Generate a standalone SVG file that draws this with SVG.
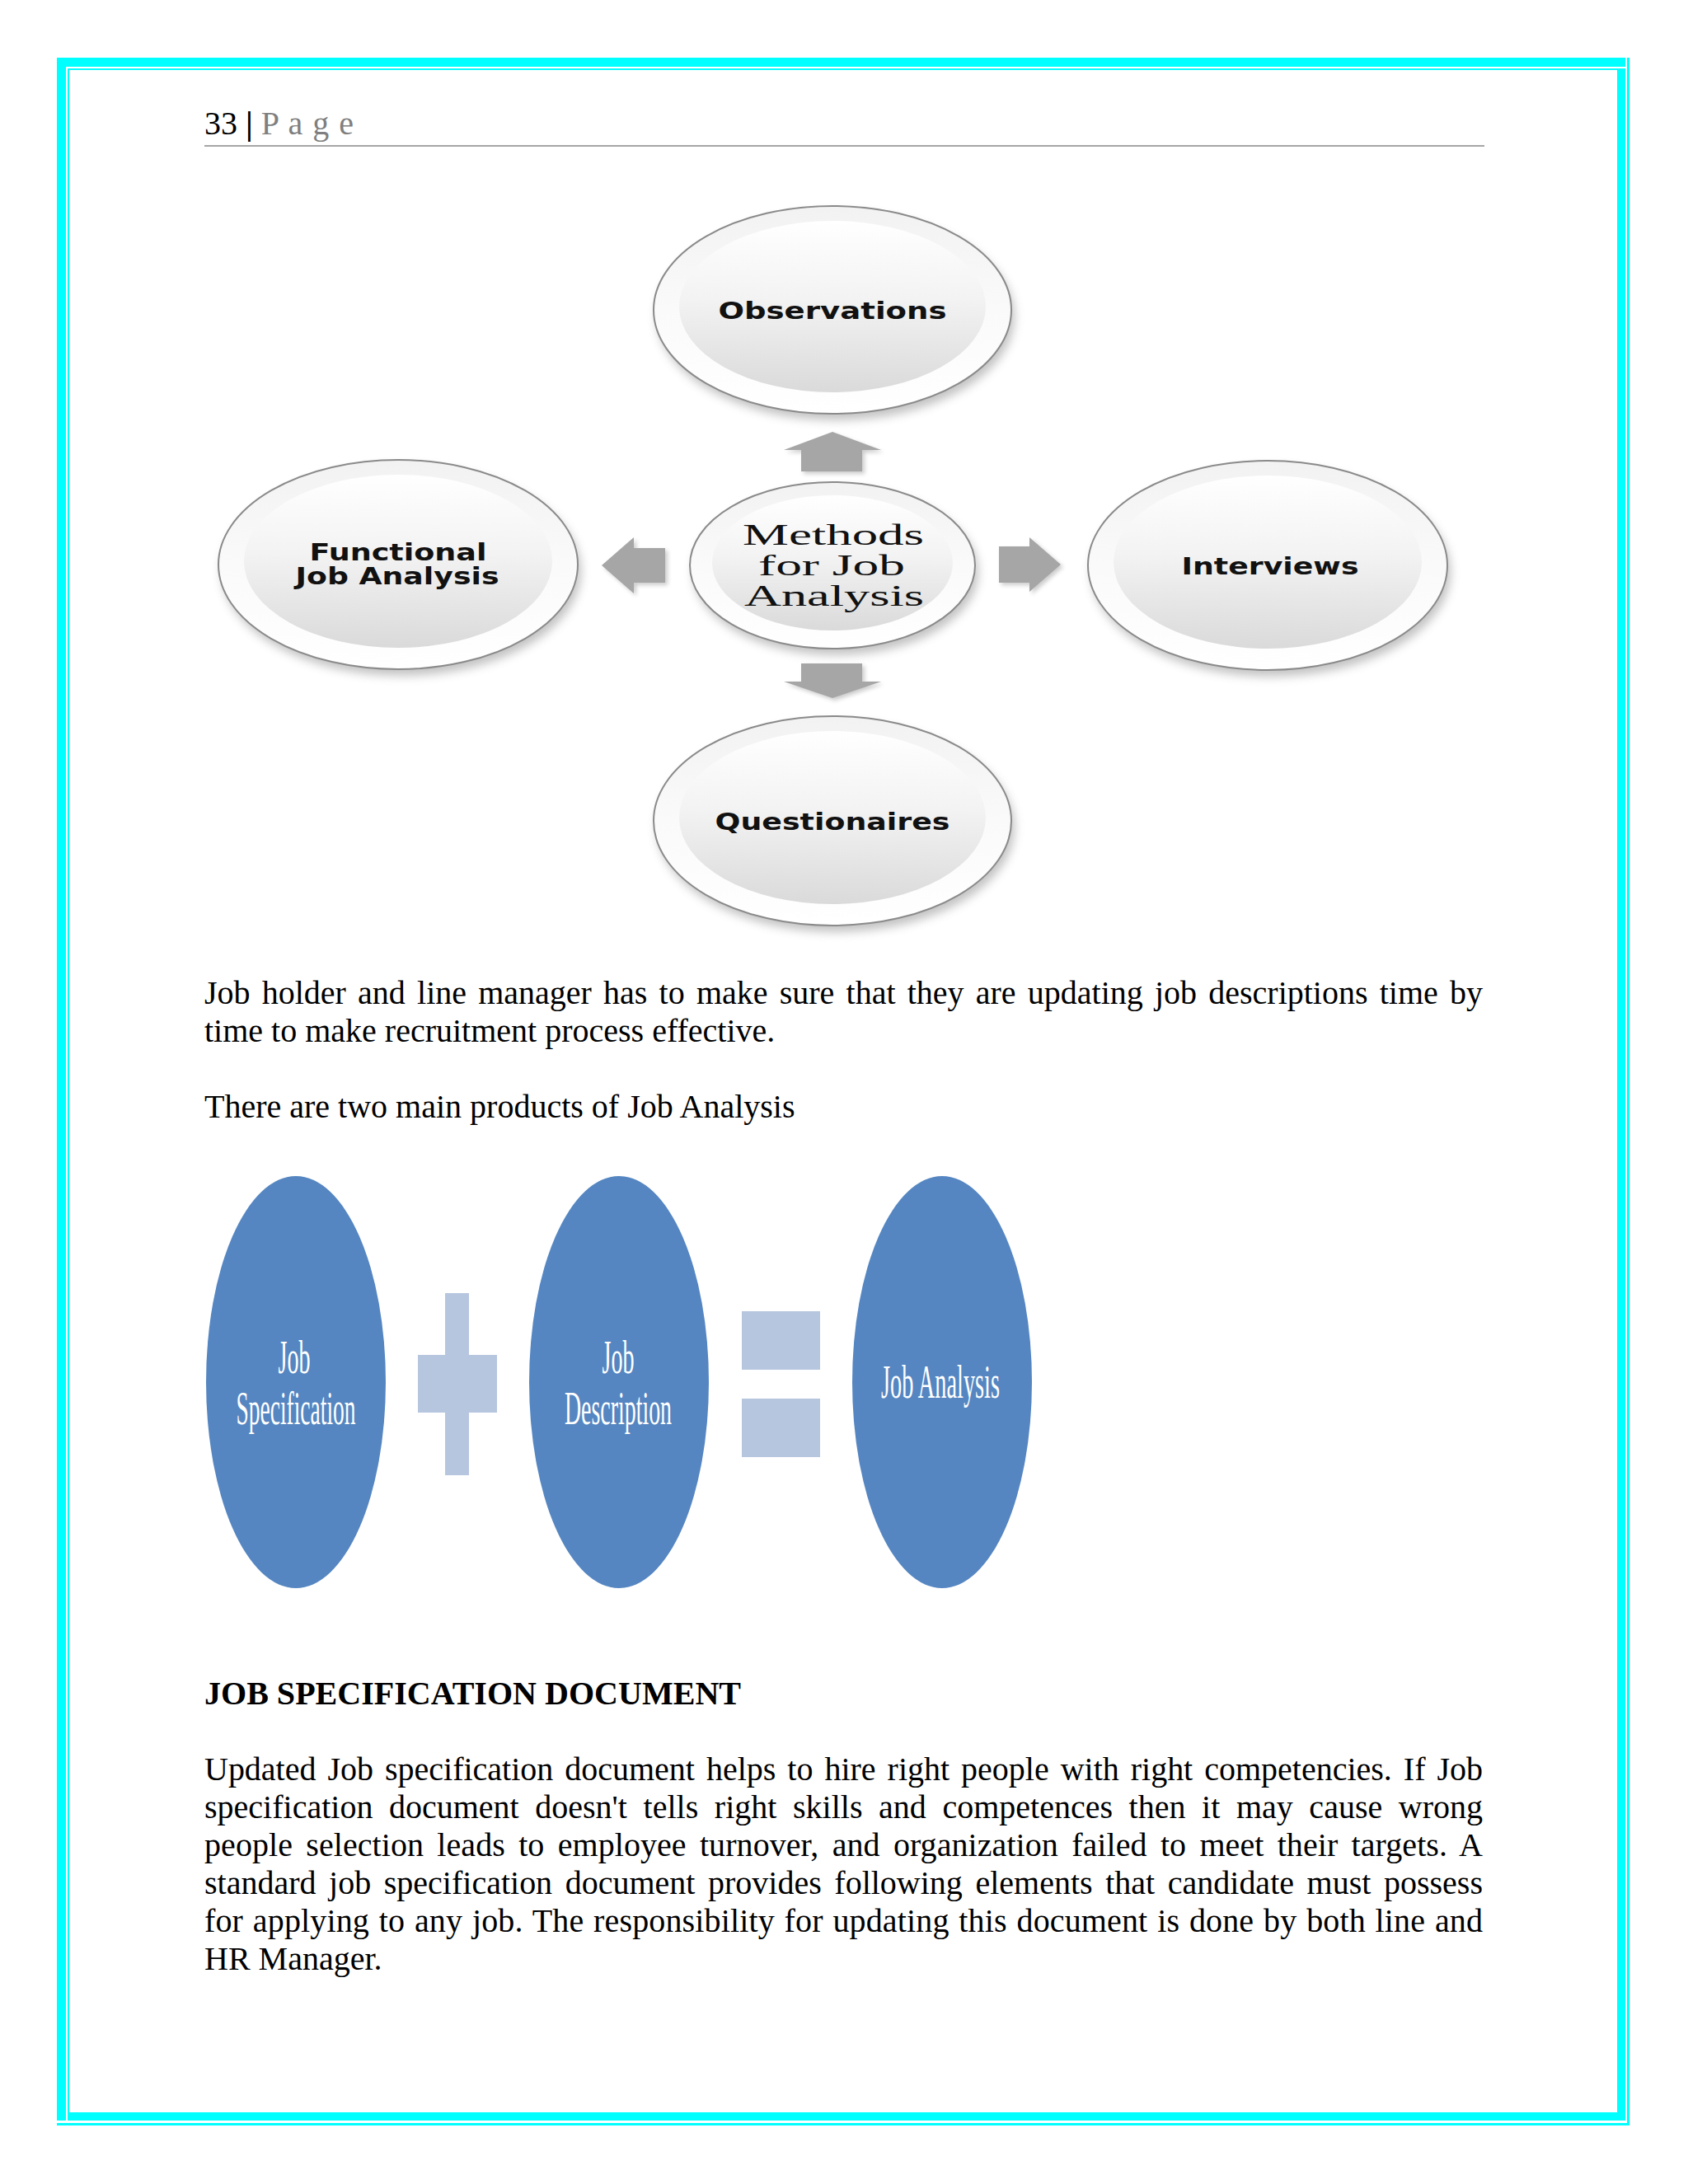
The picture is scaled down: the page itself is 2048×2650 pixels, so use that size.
<svg xmlns="http://www.w3.org/2000/svg" width="2048" height="2650" viewBox="0 0 2048 2650">
<style>
.body{font-family:"Liberation Serif","Times New Roman",serif;font-size:40px;fill:#000}
.bold{font-weight:bold}
.gtx{font-family:"DejaVu Sans","Verdana",sans-serif;font-weight:bold;font-size:28px;fill:#111}
.mtx{font-family:"Liberation Serif","Times New Roman",serif;font-size:36px;fill:#111}
.btx{font-family:"Liberation Serif","Times New Roman",serif;font-size:58px;fill:#fff}
.rimo{fill:url(#gOuter);stroke:#8a8a8a;stroke-width:2}
.rimi{fill:url(#gInner)}
.shd{fill:#7a7a7a;opacity:.45;filter:url(#blur)}
.arrow{fill:#a6a6a6}
.ashd{fill:#6f6f6f;opacity:.35;filter:url(#blurS)}
.blue{fill:#5586c1}
.op{fill:#b7c6df}
.cyan{fill:#00ffff}
</style>
<defs>
<linearGradient id="gOuter" x1="0" y1="0" x2="0" y2="1">
<stop offset="0" stop-color="#f2f2f2"/>
<stop offset="0.5" stop-color="#fafafa"/>
<stop offset="1" stop-color="#ffffff"/>
</linearGradient>
<linearGradient id="gInner" x1="0" y1="0" x2="0" y2="1">
<stop offset="0" stop-color="#ffffff"/>
<stop offset="0.45" stop-color="#f3f3f3"/>
<stop offset="1" stop-color="#dadada"/>
</linearGradient>
<filter id="blur" x="-20%" y="-20%" width="140%" height="140%"><feGaussianBlur stdDeviation="6"/></filter>
<filter id="blurS" x="-30%" y="-30%" width="160%" height="160%"><feGaussianBlur stdDeviation="2.5"/></filter>
</defs>
<rect x="0" y="0" width="2048" height="2650" fill="#ffffff"/>

<g id="page-border">
<rect class="cyan" x="69" y="70" width="1903" height="11"/>
<rect class="cyan" x="69" y="70" width="11" height="2503"/>
<rect class="cyan" x="82" y="83" width="1880" height="2"/>
<rect class="cyan" x="82" y="83" width="2" height="2480"/>
<rect class="cyan" x="82" y="2563" width="1890" height="10"/>
<rect class="cyan" x="1962" y="83" width="10" height="2490"/>
<rect class="cyan" x="69" y="2576" width="1908" height="3"/>
<rect class="cyan" x="1974" y="70" width="3" height="2509"/>
</g>

<g id="header">
<text class="body" x="248" y="163">33 <tspan class="bold">|</tspan> <tspan fill="#7f7f7f" letter-spacing="1">P a g e</tspan></text>
<line x1="248" y1="177" x2="1801" y2="177" stroke="#a6a6a6" stroke-width="2"/>
</g>

<g id="node-observations">
<ellipse class="shd" cx="1014" cy="384" rx="217" ry="126"/>
<ellipse class="rimo" cx="1010" cy="376" rx="217" ry="126"/>
<ellipse class="rimi" cx="1010" cy="372" rx="186" ry="104"/>
<text class="gtx" x="1010" y="387" text-anchor="middle" textLength="277" lengthAdjust="spacingAndGlyphs">Observations</text>
</g>

<g id="node-functional">
<ellipse class="shd" cx="487" cy="693" rx="218" ry="127"/>
<ellipse class="rimo" cx="483" cy="685" rx="218" ry="127"/>
<ellipse class="rimi" cx="483" cy="681" rx="187" ry="105"/>
<text class="gtx" x="483" y="680" text-anchor="middle" textLength="215" lengthAdjust="spacingAndGlyphs">Functional</text>
<text class="gtx" x="482" y="709" text-anchor="middle" textLength="247" lengthAdjust="spacingAndGlyphs">Job Analysis</text>
</g>

<g id="node-methods">
<ellipse class="shd" cx="1014" cy="694" rx="173" ry="101"/>
<ellipse class="rimo" cx="1010" cy="686" rx="173" ry="101"/>
<ellipse class="rimi" cx="1010" cy="683" rx="146" ry="82"/>
<text class="mtx" x="1011" y="661" text-anchor="middle" textLength="220" lengthAdjust="spacingAndGlyphs">Methods</text>
<text class="mtx" x="1009" y="698" text-anchor="middle" textLength="178" lengthAdjust="spacingAndGlyphs">for Job</text>
<text class="mtx" x="1012" y="735" text-anchor="middle" textLength="218" lengthAdjust="spacingAndGlyphs">Analysis</text>
</g>

<g id="node-interviews">
<ellipse class="shd" cx="1542" cy="694" rx="218" ry="127"/>
<ellipse class="rimo" cx="1538" cy="686" rx="218" ry="127"/>
<ellipse class="rimi" cx="1538" cy="682" rx="187" ry="105"/>
<text class="gtx" x="1541" y="697" text-anchor="middle" textLength="215" lengthAdjust="spacingAndGlyphs">Interviews</text>
</g>

<g id="node-questionaires">
<ellipse class="shd" cx="1014" cy="1004" rx="217" ry="127"/>
<ellipse class="rimo" cx="1010" cy="996" rx="217" ry="127"/>
<ellipse class="rimi" cx="1010" cy="992" rx="186" ry="105"/>
<text class="gtx" x="1010" y="1007" text-anchor="middle" textLength="285" lengthAdjust="spacingAndGlyphs">Questionaires</text>
</g>

<g id="connectors">
<g id="arrow-up">
<path class="ashd" d="M1013,527 L1072,549 L1049,549 L1049,575 L975,575 L975,549 L954,549 Z"/>
<path class="arrow" d="M1010,524 L1069,546 L1046,546 L1046,572 L972,572 L972,546 L951,546 Z"/>
</g>
<g id="arrow-left">
<path class="ashd" d="M733,689 L772,655 L772,668 L810,668 L810,710 L772,710 L772,723 Z"/>
<path class="arrow" d="M730,686 L769,652 L769,665 L807,665 L807,707 L769,707 L769,720 Z"/>
</g>
<g id="arrow-right">
<path class="ashd" d="M1215,666 L1252,666 L1252,655 L1290,688 L1252,721 L1252,710 L1215,710 Z"/>
<path class="arrow" d="M1212,663 L1249,663 L1249,652 L1287,685 L1249,718 L1249,707 L1212,707 Z"/>
</g>
<g id="arrow-down">
<path class="ashd" d="M975,808 L1049,808 L1049,830 L1072,830 L1013,850 L954,830 L975,830 Z"/>
<path class="arrow" d="M972,805 L1046,805 L1046,827 L1069,827 L1010,847 L951,827 L972,827 Z"/>
</g>
</g>

<g id="para-1">
<text class="body" x="248" y="1218" word-spacing="4.2" textLength="1551" lengthAdjust="spacing">Job holder and line manager has to make sure that they are updating job descriptions time by</text>
<text class="body" x="248" y="1264">time to make recruitment process effective.</text>
<text class="body" x="248" y="1356">There are two main products of Job Analysis</text>
</g>

<g id="node-job-specification">
<ellipse class="blue" cx="359" cy="1677" rx="109" ry="250"/>
<text class="btx" x="357" y="1666" text-anchor="middle" textLength="39" lengthAdjust="spacingAndGlyphs">Job</text>
<text class="btx" x="359" y="1728" text-anchor="middle" textLength="145" lengthAdjust="spacingAndGlyphs">Specification</text>
</g>

<g id="op-plus">
<rect class="op" x="540" y="1569" width="29" height="221"/>
<rect class="op" x="507" y="1644" width="96" height="70"/>
</g>

<g id="node-job-description">
<ellipse class="blue" cx="751" cy="1677" rx="109" ry="250"/>
<text class="btx" x="750" y="1666" text-anchor="middle" textLength="39" lengthAdjust="spacingAndGlyphs">Job</text>
<text class="btx" x="750" y="1728" text-anchor="middle" textLength="130" lengthAdjust="spacingAndGlyphs">Description</text>
</g>

<g id="op-equals">
<rect class="op" x="900" y="1591" width="95" height="71"/>
<rect class="op" x="900" y="1697" width="95" height="71"/>
</g>

<g id="node-job-analysis">
<ellipse class="blue" cx="1143" cy="1677" rx="109" ry="250"/>
<text class="btx" x="1141" y="1696" text-anchor="middle" textLength="144" lengthAdjust="spacingAndGlyphs">Job Analysis</text>
</g>

<g id="heading">
<text class="body bold" x="248" y="2068" textLength="651" lengthAdjust="spacingAndGlyphs">JOB SPECIFICATION DOCUMENT</text>
</g>

<g id="para-2">
<text class="body" x="248" y="2160" word-spacing="4.0" textLength="1551" lengthAdjust="spacing">Updated Job specification document helps to hire right people with right competencies. If Job</text>
<text class="body" x="248" y="2206" word-spacing="9.6" textLength="1551" lengthAdjust="spacing">specification document doesn't tells right skills and competences then it may cause wrong</text>
<text class="body" x="248" y="2252" word-spacing="6.2" textLength="1551" lengthAdjust="spacing">people selection leads to employee turnover, and organization failed to meet their targets. A</text>
<text class="body" x="248" y="2298" word-spacing="5.6" textLength="1551" lengthAdjust="spacing">standard job specification document provides following elements that candidate must possess</text>
<text class="body" x="248" y="2344" word-spacing="1.7" textLength="1551" lengthAdjust="spacing">for applying to any job. The responsibility for updating this document is done by both line and</text>
<text class="body" x="248" y="2390">HR Manager.</text>
</g>
</svg>
